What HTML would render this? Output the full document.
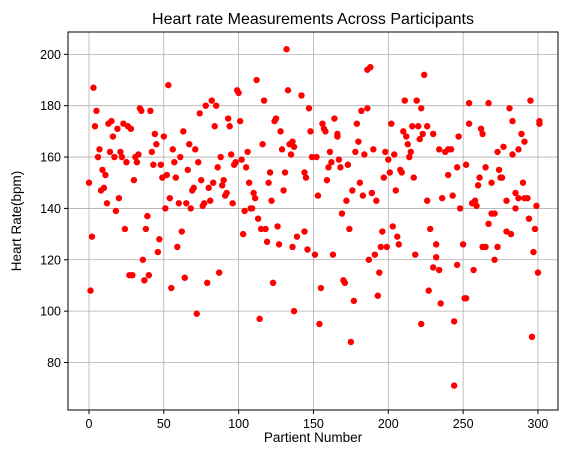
<!DOCTYPE html>
<html><head><meta charset="utf-8"><style>
body{margin:0;background:#fff;}
svg text{font-family:"Liberation Sans","DejaVu Sans",sans-serif;fill:#000;}
</style></head><body>
<svg id="chart" width="571" height="455" xmlns="http://www.w3.org/2000/svg">
<rect width="571" height="455" fill="#fff"/>
<text x="313" y="24" font-size="16" text-anchor="middle">Heart rate Measurements Across Participants</text>
<text x="313" y="442" font-size="13.5" text-anchor="middle">Partient Number</text>
<text x="0" y="0" font-size="13.5" text-anchor="middle" transform="translate(21,221) rotate(-90)">Heart Rate(bpm)</text>
<g id="grid"></g>
<g id="points"></g>
<rect x="68" y="32" width="490" height="378" fill="none" stroke="#000" stroke-width="1"/>
<g id="ticks"></g>
</svg>
<script>
const xTicks = [0, 50, 100, 150, 200, 250, 300];
const yTicks = [80, 100, 120, 140, 160, 180, 200];
const heartRates = [150,108,129,187,172,178,160,163,147,155,148,153,142,173,162,174,168,160,139,171,144,162,160,173,132,158,172,114,171,114,151,160,158,161,179,178,120,112,132,137,114,178,162,157,169,165,123,128,157,152,168,140,153,188,144,109,163,158,152,125,142,160,131,170,113,142,155,165,140,147,148,163,99,158,177,151,141,142,180,111,148,143,182,150,172,180,156,115,160,149,151,145,146,175,172,161,142,157,158,186,185,174,159,130,139,156,162,150,140,140,146,144,190,136,97,132,165,182,132,127,150,154,143,111,174,175,133,126,170,163,147,154,202,186,165,161,166,164,
125,100,129,184,154,152,179,170,160,160,145,173,171,170,175,162,158,156,151,168,169,159,156,157,138,132,143,147,150,145,162,166,173,178,179,194,195,161,163,146,143,162,152,159,154,173,161,147,155,154,170,182,168,165,160,162,172,152,182,172,167,179,
131,124,122,122,109,95,112,111,104,88,120,122,125,125,131,133,129,126,115,106,122,95,
192,169,172,169,163,162,163,163,168,181,181,173,171,169,179,174,182,174,173,169,166,164,162,161,163,156,157,153,156,155,152,149,150,152,152,150,146,144,144,144,145,144,143,142,143,141,143,140,141,140,138,138,134,136,132,131,130,132,126,126,125,125,125,123,121,118,120,117,116,116,115,108,103,105,105,96,90,71];
const patientNumbers = [];
for (let i = 0; i < 138; i++) patientNumbers.push(i);
patientNumbers.push(
136,137,139,142,144,145,147,148,149,152,153,156,157,158,164,161,162,160,159,166,166,167,168,173,169,174,172,176,181,183,178,180,179,182,186,186,188,184,190,189,192,198,197,200,201,202,204,205,208,209,210,211,212,213,214,215,216,217,219,220,221,222,
144,146,151,163,155,154,170,171,177,175,187,191,195,199,196,203,206,207,194,193,218,222,
224,223,226,230,234,238,240,242,247,254,267,254,262,263,281,283,295,301,301,289,291,277,273,283,287,246,252,240,265,274,261,260,269,275,276,290,285,287,291,293,243,236,226,256,258,259,279,285,299,248,269,271,267,294,298,279,282,228,232,250,263,265,273,297,232,246,271,230,234,257,300,227,235,251,252,244,296,244);

const L=68,R=558,T=32,B=410;
const xMin=-14.03, xMax=313.4, yMin=61.5, yMax=208.7;
function xs(v){return L+(v-xMin)/(xMax-xMin)*(R-L);}
function ys(v){return B-(v-yMin)/(yMax-yMin)*(B-T);}
const NS="http://www.w3.org/2000/svg";
const grid=document.getElementById('grid'), ticks=document.getElementById('ticks'), pts=document.getElementById('points');
xTicks.forEach(t=>{
  const x=xs(t);
  const g=document.createElementNS(NS,'line');
  g.setAttribute('x1',x);g.setAttribute('x2',x);g.setAttribute('y1',T);g.setAttribute('y2',B);
  g.setAttribute('stroke','#b0b0b0');g.setAttribute('stroke-width','0.8');
  
  
  grid.appendChild(g);
  const tk=document.createElementNS(NS,'line');
  tk.setAttribute('x1',x);tk.setAttribute('x2',x);tk.setAttribute('y1',B);tk.setAttribute('y2',B+4);tk.setAttribute('stroke','#000');
  
  
  ticks.appendChild(tk);
  const lb=document.createElementNS(NS,'text');
  lb.setAttribute('x',x);lb.setAttribute('y',B+18);lb.setAttribute('font-size','12.5');lb.setAttribute('text-anchor','middle');
  lb.textContent=t;
  
  
  ticks.appendChild(lb);
});
yTicks.forEach(t=>{
  const y=ys(t);
  const g=document.createElementNS(NS,'line');
  g.setAttribute('x1',L);g.setAttribute('x2',R);g.setAttribute('y1',y);g.setAttribute('y2',y);
  g.setAttribute('stroke','#b0b0b0');g.setAttribute('stroke-width','0.8');
  
  
  grid.appendChild(g);
  const tk=document.createElementNS(NS,'line');
  tk.setAttribute('x1',L-4);tk.setAttribute('x2',L);tk.setAttribute('y1',y);tk.setAttribute('y2',y);tk.setAttribute('stroke','#000');
  
  
  ticks.appendChild(tk);
  const lb=document.createElementNS(NS,'text');
  lb.setAttribute('x',L-7);lb.setAttribute('y',y+4.5);lb.setAttribute('font-size','12.5');lb.setAttribute('text-anchor','end');
  lb.textContent=t;
  
  
  ticks.appendChild(lb);
});
const n=Math.min(heartRates.length,patientNumbers.length);
for(let i=0;i<n;i++){
  const c=document.createElementNS(NS,'circle');
  c.setAttribute('cx',xs(patientNumbers[i]));c.setAttribute('cy',ys(heartRates[i]));
  c.setAttribute('r','3.2');c.setAttribute('fill','#ff0000');
  
  
  pts.appendChild(c);
}
</script>
</body></html>
